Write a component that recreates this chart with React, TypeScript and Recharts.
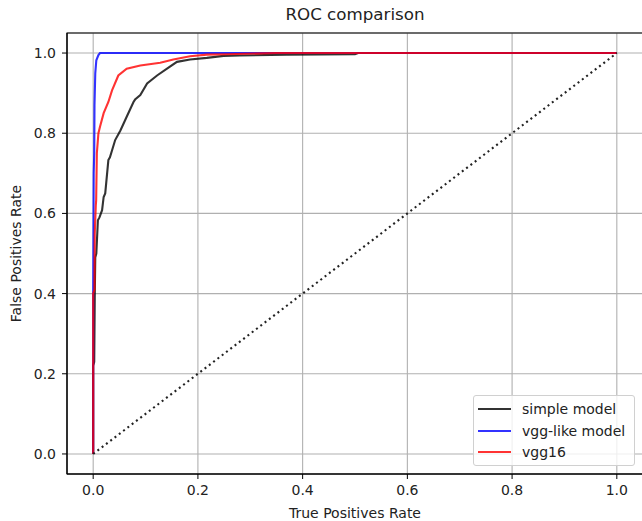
import React from "react";
import { LineChart, Line, XAxis, YAxis, CartesianGrid, ReferenceArea, Label } from "recharts";

const ticks = [0, 0.2, 0.4, 0.6, 0.8, 1.0];

// simple model
const simpleFpr = [0, 0, 0.002, 0.003, 0.004, 0.006, 0.009, 0.012, 0.017, 0.02, 0.023, 0.029, 0.032, 0.042, 0.052, 0.064, 0.077, 0.08, 0.09, 0.103, 0.122, 0.141, 0.16, 0.185, 0.217, 0.249, 0.28, 0.37, 0.5, 0.506, 1];
const simpleTpr = [0, 0.22, 0.23, 0.39, 0.49, 0.5, 0.583, 0.59, 0.608, 0.641, 0.65, 0.733, 0.74, 0.783, 0.807, 0.841, 0.878, 0.884, 0.895, 0.924, 0.944, 0.961, 0.978, 0.984, 0.988, 0.993, 0.994, 0.996, 0.997, 1, 1];

// vgg-like model
const vggLikeFpr = [0, 0, 0.001, 0.002, 0.0025, 0.004, 0.006, 0.01, 0.013, 1];
const vggLikeTpr = [0, 0.4, 0.7, 0.75, 0.87, 0.95, 0.982, 0.995, 1, 1];

// vgg16
const vgg16Fpr = [0, 0, 0.0025, 0.003, 0.005, 0.0057, 0.007, 0.01, 0.013, 0.02, 0.029, 0.036, 0.048, 0.064, 0.09, 0.128, 0.153, 0.185, 0.217, 0.255, 0.35, 1];
const vgg16Tpr = [0, 0.4, 0.41, 0.55, 0.62, 0.633, 0.75, 0.8, 0.816, 0.85, 0.878, 0.907, 0.944, 0.961, 0.969, 0.976, 0.984, 0.992, 0.996, 0.997, 1, 1];

const diagonal = [0, 1];

const toPoints = (xs: number[], ys: number[]) => xs.map((x, i) => ({ x, y: ys[i] }));

const legendItems = [
  { name: "simple model", color: "#000" },
  { name: "vgg-like model", color: "#0000ff" },
  { name: "vgg16", color: "#ff0000" },
];

const font = "DejaVu Sans, sans-serif";

export default function App() {
  const tickStyle = { fontSize: 14, fontFamily: font, fill: "#222" };
  return (
    <div style={{ position: "absolute", left: 0, top: 0, width: 642, height: 521, overflow: "hidden", background: "#fff", fontFamily: font }}>
      <div style={{ position: "absolute", left: 0, top: 4, width: 710, textAlign: "center", fontSize: 16.7, color: "#222" }}>
        ROC comparison
      </div>
      <LineChart width={660} height={521} margin={{ top: 33, right: 17, bottom: 0, left: 0 }}>
        <CartesianGrid stroke="#b0b0b0" strokeWidth={1.1} />
        <XAxis
          type="number"
          dataKey="x"
          domain={[-0.05, 1.05]}
          ticks={ticks}
          allowDataOverflow
          tickFormatter={(v: number) => v.toFixed(1)}
          tick={tickStyle}
          tickSize={5}
          tickMargin={6}
          height={47}
          stroke="#000"
        >
          <Label value="True Positives Rate" position="insideBottom" offset={3} style={{ fontSize: 14, fontFamily: font, fill: "#222" }} />
        </XAxis>
        <YAxis
          type="number"
          dataKey="y"
          domain={[-0.05, 1.05]}
          ticks={ticks}
          allowDataOverflow
          tickFormatter={(v: number) => v.toFixed(1)}
          tick={tickStyle}
          tickSize={5}
          tickMargin={6}
          width={67}
          stroke="#000"
        >
          <Label value="False Positives Rate" angle={-90} position="insideLeft" offset={16} style={{ fontSize: 14, fontFamily: font, fill: "#222", textAnchor: "middle" }} />
        </YAxis>
        <Line data={toPoints(simpleFpr, simpleTpr)} dataKey="y" stroke="#000" strokeOpacity={0.8} strokeWidth={2.1} dot={false} isAnimationActive={false} />
        <Line data={toPoints(vggLikeFpr, vggLikeTpr)} dataKey="y" stroke="#0000ff" strokeOpacity={0.8} strokeWidth={2.1} dot={false} isAnimationActive={false} />
        <Line data={toPoints(vgg16Fpr, vgg16Tpr)} dataKey="y" stroke="#ff0000" strokeOpacity={0.8} strokeWidth={2.1} dot={false} isAnimationActive={false} />
        <Line data={toPoints(diagonal, diagonal)} dataKey="y" stroke="#222" strokeWidth={2.1} strokeDasharray="2 3.4" dot={false} isAnimationActive={false} />
        <ReferenceArea x1={-0.05} x2={1.05} y1={-0.05} y2={1.05} fill="none" stroke="#000" strokeWidth={1.1} ifOverflow="visible" />
      </LineChart>
      <div
        style={{
          position: "absolute",
          left: 473,
          top: 395,
          width: 162,
          height: 71,
          border: "1px solid #d0d0d0",
          borderRadius: 3,
          background: "rgba(255,255,255,0.8)",
          boxSizing: "border-box",
        }}
      >
        {legendItems.map((item, i) => (
          <div key={item.name} style={{ position: "absolute", left: 4, top: 3 + i * 21.7, height: 20, display: "flex", alignItems: "center" }}>
            <svg width={33} height={4} style={{ display: "block" }}>
              <line x1={0} y1={2} x2={33} y2={2} stroke={item.color} strokeOpacity={0.8} strokeWidth={2.1} />
            </svg>
            <span style={{ marginLeft: 11, fontSize: 14, color: "#222", whiteSpace: "nowrap" }}>{item.name}</span>
          </div>
        ))}
      </div>
    </div>
  );
}
